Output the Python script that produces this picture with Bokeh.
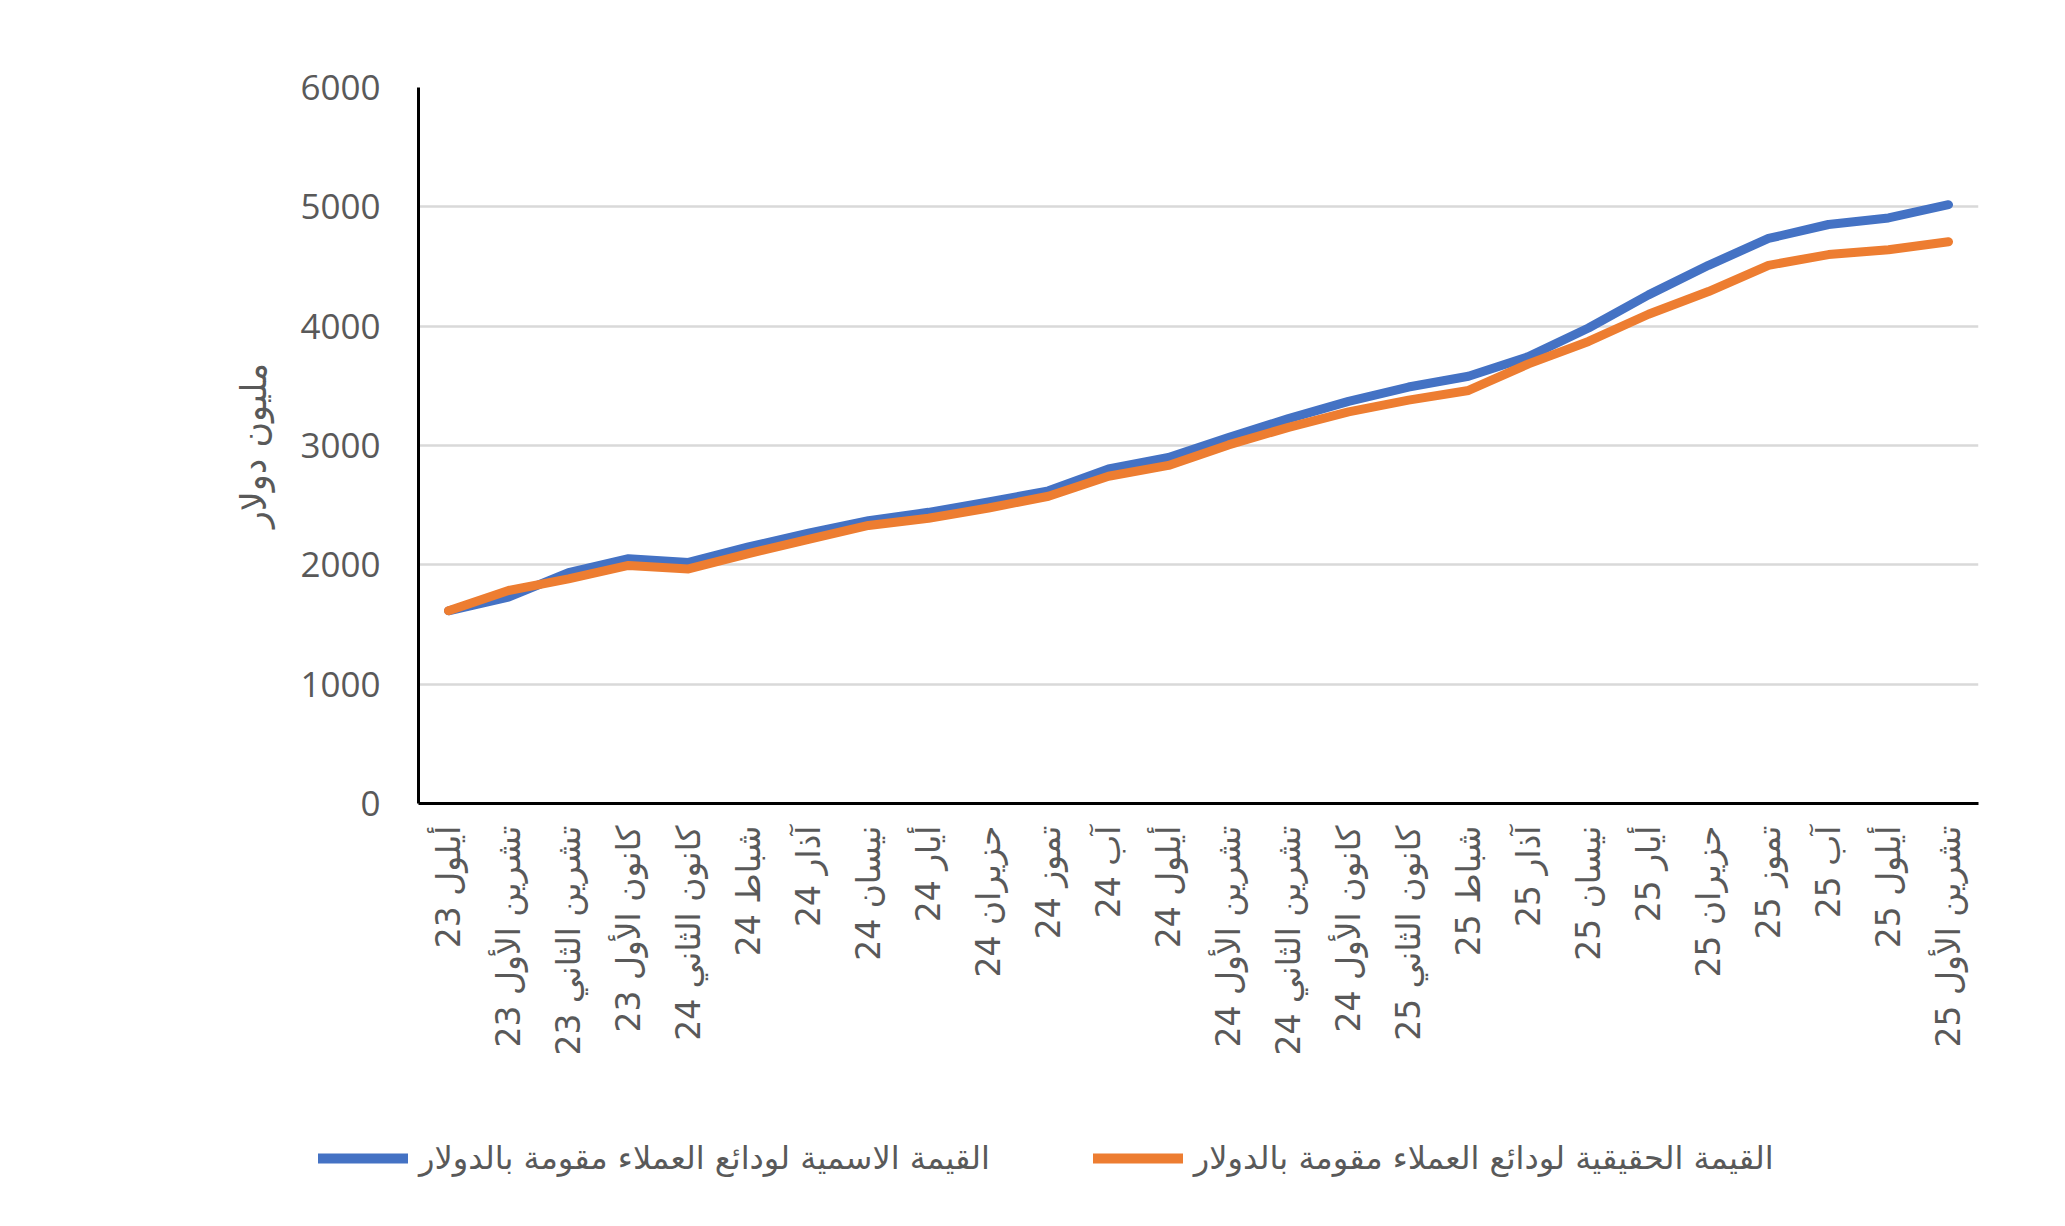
import math
from bokeh.plotting import figure
from bokeh.layouts import column, row
from bokeh.models import Range1d, FactorRange, Legend, LegendItem
from bokeh.embed import file_html
from bokeh.resources import INLINE

months = [
    "أيلول 23", "تشرين الأول 23", "تشرين الثاني 23", "كانون الأول 23",
    "كانون الثاني 24", "شباط 24", "آذار 24", "نيسان 24", "أيار 24",
    "حزيران 24", "تموز 24", "آب 24", "أيلول 24", "تشرين الأول 24",
    "تشرين الثاني 24", "كانون الأول 24", "كانون الثاني 25", "شباط 25",
    "آذار 25", "نيسان 25", "أيار 25", "حزيران 25", "تموز 25", "آب 25",
    "أيلول 25", "تشرين الأول 25",
]
nominal = [1615, 1730, 1935, 2052, 2020, 2150, 2265, 2370, 2440, 2527, 2620,
           2803, 2900, 3067, 3225, 3370, 3490, 3580, 3745, 3985, 4262, 4510,
           4735, 4852, 4907, 5018]
real_vals = [1615, 1785, 1882, 1995, 1966, 2094, 2214, 2330, 2390, 2476, 2575,
             2742, 2833, 3005, 3152, 3282, 3380, 3461, 3684, 3872, 4100, 4290,
             4510, 4600, 4640, 4707]
y_ticks = [0, 1000, 2000, 3000, 4000, 5000, 6000]
name_nominal = "القيمة الاسمية لودائع العملاء مقومة بالدولار"
name_real = "القيمة الحقيقية لودائع العملاء مقومة بالدولار"
y_title = "مليون دولار"

BLUE = "#4472C4"
ORANGE = "#ED7D31"
GREY = "#595959"

p = figure(x_range=FactorRange(*months), y_range=Range1d(0, 6000),
           width=2049, height=1080, output_backend="svg", toolbar_location=None,
           min_border_left=418, min_border_right=71, min_border_top=87,
           min_border_bottom=277)
p.background_fill_color = "white"
p.border_fill_color = "white"
p.outline_line_color = None

p.line(x=months, y=nominal, line_color=BLUE, line_width=9,
       line_cap="round", line_join="round")
p.line(x=months, y=real_vals, line_color=ORANGE, line_width=9,
       line_cap="round", line_join="round")

p.xgrid.visible = False
p.ygrid.grid_line_color = "#D9D9D9"
p.ygrid.grid_line_width = 2.5

p.yaxis.ticker = y_ticks
p.yaxis.major_tick_out = 0
p.yaxis.major_tick_in = 0
p.yaxis.major_tick_line_color = None
p.yaxis.minor_tick_line_color = None
p.yaxis.axis_line_color = "black"
p.yaxis.axis_line_width = 3
p.yaxis.major_label_text_font = "Open Sans"
p.yaxis.major_label_text_font_size = "35px"
p.yaxis.major_label_text_color = GREY
p.yaxis.major_label_standoff = 38
p.yaxis.axis_label = y_title
p.yaxis.axis_label_text_font = "DejaVu Sans"
p.yaxis.axis_label_text_font_style = "normal"
p.yaxis.axis_label_text_font_size = "35px"
p.yaxis.axis_label_text_color = GREY
p.yaxis.axis_label_standoff = 23

p.xaxis.major_label_orientation = math.pi / 2
p.xaxis.major_tick_out = 0
p.xaxis.major_tick_in = 0
p.xaxis.major_tick_line_color = None
p.xaxis.minor_tick_line_color = None
p.xaxis.axis_line_color = "black"
p.xaxis.axis_line_width = 3
p.xaxis.major_label_text_font = "DejaVu Sans"
p.xaxis.major_label_text_font_size = "33px"
p.xaxis.major_label_text_color = GREY
p.xaxis.major_label_standoff = 22

# legend strip below the chart
lg = figure(width=2049, height=120, output_backend="svg", toolbar_location=None,
            x_range=Range1d(0, 1), y_range=Range1d(0, 1),
            min_border=0, min_border_left=0, min_border_right=0,
            min_border_top=0, min_border_bottom=0)
lg.axis.visible = False
lg.grid.visible = False
lg.outline_line_color = None
lg.background_fill_color = "white"
lg.border_fill_color = "white"
d1 = lg.line(x=[-10, -9], y=[-10, -9], line_color=BLUE, line_width=10,
             line_cap="round")
d2 = lg.line(x=[-10, -9], y=[-10, -9], line_color=ORANGE, line_width=10,
             line_cap="round")
legend = Legend(items=[LegendItem(label=name_nominal, renderers=[d1]),
                       LegendItem(label=name_real, renderers=[d2])],
                orientation="horizontal", location=(318, 23),
                glyph_width=90, glyph_height=30, label_height=30,
                label_standoff=11, spacing=103,
                label_text_font="DejaVu Sans", label_text_font_size="32px",
                label_text_color=GREY, border_line_color=None,
                background_fill_alpha=0, padding=0, margin=0)
lg.add_layout(legend)

layout = column(p, row(lg, spacing=0), spacing=0)
open("out.html", "w").write(file_html(layout, INLINE))
